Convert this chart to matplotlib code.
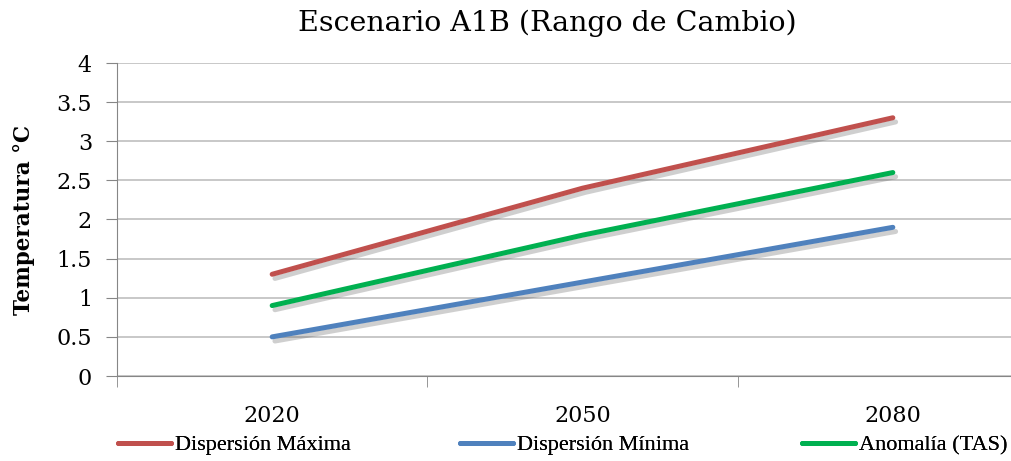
import matplotlib
matplotlib.use("Agg")
import matplotlib.pyplot as plt
import matplotlib.patheffects as pe
from matplotlib.lines import Line2D
from matplotlib.font_manager import FontProperties

# datos
years = ["2020", "2050", "2080"]
disp_max = [1.3, 2.4, 3.3]
disp_min = [0.5, 1.2, 1.9]
anomalia = [0.9, 1.8, 2.6]

series = [
    ("Dispersión Máxima", disp_max, "#C0504D"),
    ("Dispersión Mínima", disp_min, "#4F81BD"),
    ("Anomalía (TAS)", anomalia, "#00B050"),
]

plt.rcParams['font.family'] = ['DejaVu Serif']

fig = plt.figure(figsize=(10.11, 4.61), dpi=100)
ax = fig.add_axes([117 / 1011, 85 / 461, 931 / 1011, 313 / 461])

x = list(range(len(years)))
shadow = [pe.SimpleLineShadow(offset=(2, -3), shadow_color="#555555", alpha=0.28), pe.Normal()]
for name, vals, col in series:
    ax.plot(x, vals, color=col, lw=3.6, solid_capstyle="round", label=name,
            path_effects=shadow, zorder=3)

ax.set_xlim(-0.5, 2.5)
ax.set_ylim(0, 4)
ax.set_yticks([0, 0.5, 1, 1.5, 2, 2.5, 3, 3.5, 4])
ax.set_yticklabels(["0", "0.5", "1", "1.5", "2", "2.5", "3", "3.5", "4"])
ax.set_xticks(x)
ax.set_xticklabels(years)
ax.set_xticks([-0.5, 0.5, 1.5], minor=True)
ax.tick_params(axis="x", which="major", length=0, pad=21, labelsize=16)
ax.tick_params(axis="x", which="minor", length=8, color="#868686", direction="out")
ax.tick_params(axis="y", length=8, color="#868686", pad=10, labelsize=16)

ax.grid(axis="y", color="#BFBFBF", lw=1.2)
ax.set_axisbelow(True)
for s in ["top", "right"]:
    ax.spines[s].set_visible(False)
ax.spines["left"].set_color("#868686")
ax.spines["bottom"].set_color("#868686")

ax.set_ylabel("Temperatura °C", fontsize=15.5, fontweight="bold")
ax.yaxis.set_label_coords(-0.088, 0.5)

fig.text(547 / 1011, 1 - 23 / 461, "Escenario A1B (Rango de Cambio)", fontsize=20.5,
         ha="center", va="center")

# una leyenda por serie, como en el original (texto mas estrecho)
leg_font = FontProperties(family="Liberation Serif", size=16)
legend_x = [118, 460, 802]
for (name, _, col), lx in zip(series, legend_x):
    h = Line2D([], [], color=col, lw=3.6, solid_capstyle="round")
    leg = fig.legend([h], [name], loc="center left",
                     bbox_to_anchor=(lx / 1011, 1 - 445 / 461), frameon=False,
                     prop=leg_font, handlelength=2.4, handletextpad=0.15,
                     borderpad=0, borderaxespad=0)
    fig.add_artist(leg)

fig.savefig("out.png", dpi=100)
